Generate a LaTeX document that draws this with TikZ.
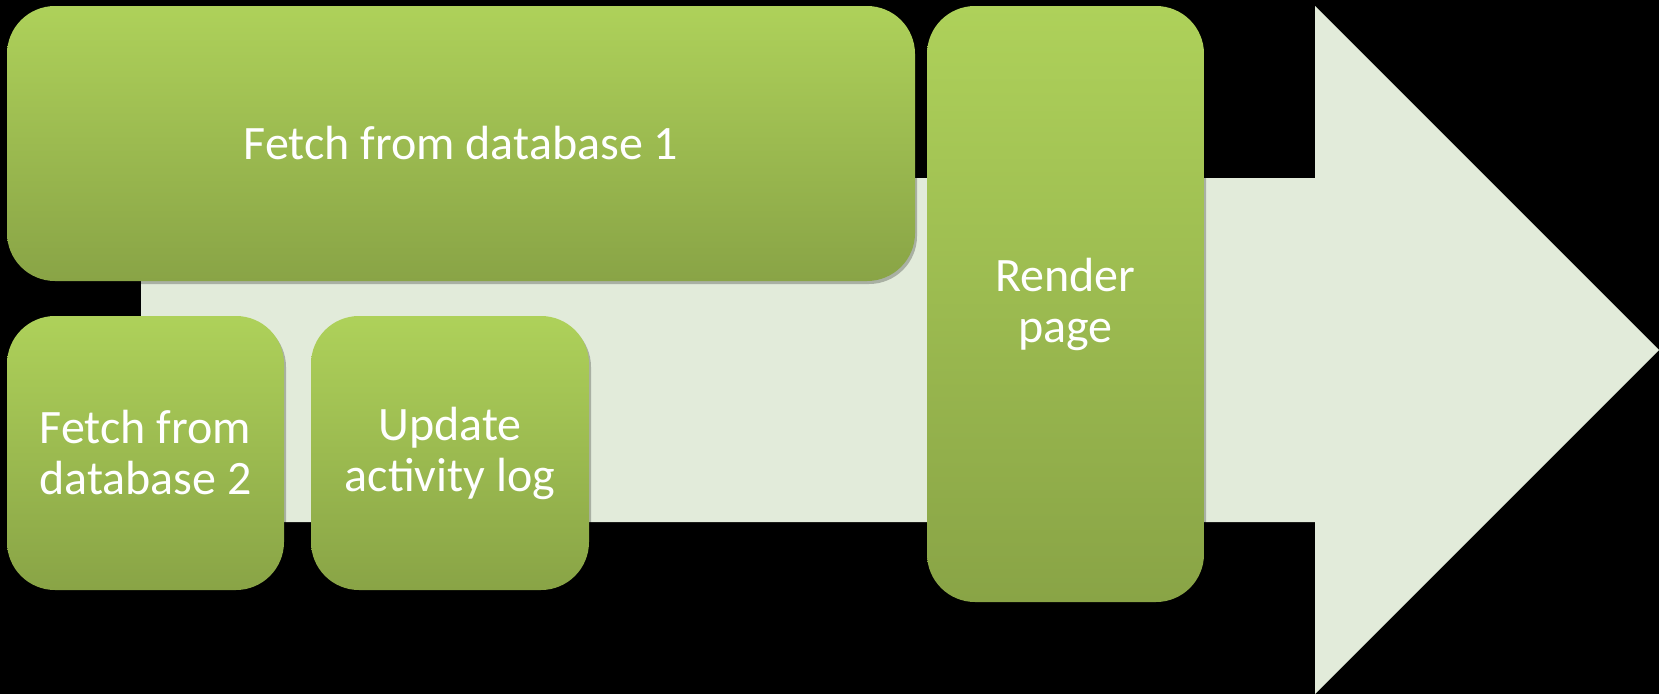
\documentclass[tikz,border=0pt]{standalone}
\usepackage{fontspec}
\setmainfont{Carlito}
\usetikzlibrary{shadows}
\definecolor{gtop}{RGB}{174,209,90}
\definecolor{gbot}{RGB}{137,164,70}
\definecolor{arrowfill}{RGB}{226,235,218}
\tikzset{
  box/.style={rounded corners=48pt, top color=gtop, bottom color=gbot, draw=none,
    text=white, align=center, font=\fontsize{48}{51}\selectfont, inner sep=0pt,
    drop shadow={shadow xshift=2pt, shadow yshift=-3pt, opacity=0.25, fill=black}},
  bigarrow/.style={fill=arrowfill}
}
\begin{document}
\begin{tikzpicture}[x=1pt,y=-1pt]
\fill[black] (0,0) rectangle (1659,694);
\useasboundingbox (0,0) rectangle (1659,694);
\fill[bigarrow] (141,178) -- (1315,178) -- (1315,6) -- (1659,350) -- (1315,694) -- (1315,522) -- (141,522) -- cycle;
\node[box, minimum width=908pt, minimum height=275pt] (db1) at (461,143.5) {Fetch from database 1};
\node[box, minimum width=277pt, minimum height=596pt] (render) at (1065.5,304) {Render\\page};
\node[box, minimum width=277pt, minimum height=274pt] (db2) at (145.5,453) {Fetch from\\database 2};
\node[box, minimum width=278pt, minimum height=274pt] (upd) at (450,453) {Update\\activity log};
\end{tikzpicture}
\end{document}
